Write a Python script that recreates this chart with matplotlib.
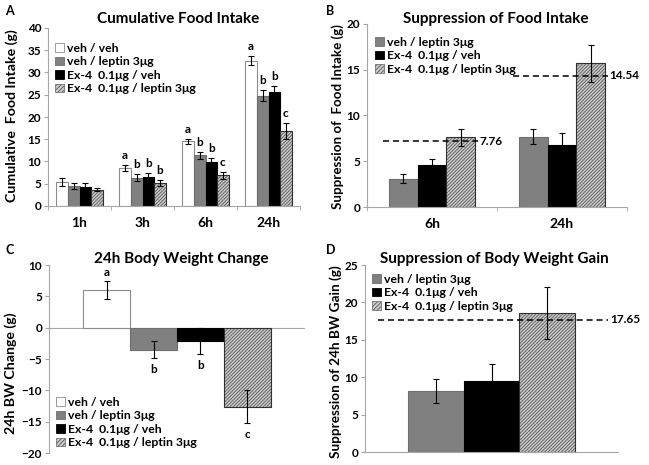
import numpy as np
import matplotlib
matplotlib.use("Agg")
import matplotlib.pyplot as plt
from matplotlib.patches import Patch

plt.rcParams["font.family"] = ["Lato", "DejaVu Sans"]
plt.rcParams["font.weight"] = "bold"
plt.rcParams["hatch.linewidth"] = 0.7

# ---- data -------------------------------------------------------------
groups4 = ["veh / veh", "veh / leptin 3μg", "Ex-4  0.1μg / veh", "Ex-4  0.1μg / leptin 3μg"]

# A: cumulative food intake (g)
a_times = ["1h", "3h", "6h", "24h"]
a_mean = [[5.4, 8.5, 14.5, 32.6],
          [4.5, 6.4, 11.4, 24.8],
          [4.3, 6.5, 9.9, 25.7],
          [3.7, 5.2, 6.9, 16.8]]
a_err = [[0.8, 0.7, 0.5, 1.0],
         [0.7, 0.7, 0.8, 1.2],
         [0.8, 0.9, 0.9, 1.3],
         [0.4, 0.6, 0.8, 1.8]]
a_letters = [["", "a", "a", "a"],
             ["", "b", "b", "b"],
             ["", "b", "b", "b"],
             ["", "b", "c", "c"]]

# B: suppression of food intake (g)
b_times = ["6h", "24h"]
b_mean = [[3.1, 7.7], [4.6, 6.8], [7.6, 15.7]]
b_err = [[0.5, 0.8], [0.7, 1.3], [0.9, 2.0]]
b_ref_level = [7.2, 14.35]
b_ref_label = ["7.76", "14.54"]

# C: 24h body weight change (g)
c_mean = [6.0, -3.5, -2.1, -12.6]
c_err = [1.4, 1.3, 2.1, 2.6]
c_letters = ["a", "b", "b", "c"]

# D: suppression of 24h BW gain (g)
d_mean = [8.1, 9.5, 18.6]
d_err = [1.6, 2.3, 3.5]
d_ref_level = 17.65
d_ref_label = "17.65"

# ---- styles -----------------------------------------------------------
faces = ["white", "#808080", "black", "white"]
edges = ["#8c8c8c", "#6e6e6e", "black", "#303030"]
hatches = [None, None, None, "//////////"]
HATCH_GRAY = "#626262"
AX_GRAY = "#a6a6a6"
LEG_FS = 8.8
TXT_FS = 8.5


def draw_bar(ax, x, h, w, k):
    if hatches[k]:
        ax.bar(x, h, w, color="#cfcfcf", edgecolor=HATCH_GRAY, hatch=hatches[k], linewidth=0)
        ax.bar(x, h, w, fill=False, edgecolor=edges[k], linewidth=0.8)
    else:
        ax.bar(x, h, w, color=faces[k], edgecolor=edges[k], linewidth=0.8)


def handles(idx):
    out = []
    for k in idx:
        if hatches[k]:
            out.append(Patch(facecolor="#cfcfcf", edgecolor=HATCH_GRAY, hatch="////////", linewidth=0.5))
        else:
            out.append(Patch(facecolor=faces[k], edgecolor=edges[k], linewidth=0.6))
    return out


def style_ax(ax, ylim, step):
    ax.set_ylim(*ylim)
    ax.set_yticks(np.arange(ylim[0], ylim[1] + 0.1, step))
    ax.tick_params(axis="y", labelsize=8.5, length=3, color=AX_GRAY, pad=2)
    for s in ("top", "right"):
        ax.spines[s].set_visible(False)
    ax.spines["left"].set_color(AX_GRAY)
    ax.spines["bottom"].set_color(AX_GRAY)
    for lab in ax.get_yticklabels():
        lab.set_fontweight("bold")


def legend(ax, idx, x, y):
    ax.legend(handles(idx), [groups4[k] for k in idx], loc="upper left",
              bbox_to_anchor=(x, y), bbox_transform=fig.transFigure, frameon=False,
              handlelength=0.7, handleheight=0.7, handletextpad=0.3,
              labelspacing=0.2, borderpad=0, borderaxespad=0,
              prop={"weight": "bold", "size": LEG_FS})


W, H = 649, 465
fig = plt.figure(figsize=(W / 100, H / 100), dpi=100)


def axes_px(l, r, b, t):
    return fig.add_axes([l / W, 1 - b / H, (r - l) / W, (b - t) / H])


def ftext(x, y, s, **kw):
    fig.text(x / W, 1 - y / H, s, **kw)


# ---- A ----------------------------------------------------------------
axA = axes_px(48, 300, 206, 28)
wA = 0.183
xs = np.arange(len(a_times))
for k in range(4):
    pos = xs + (k - 1.5) * wA
    for i, x in enumerate(pos):
        draw_bar(axA, x, a_mean[k][i], wA, k)
    axA.errorbar(pos, a_mean[k], yerr=a_err[k], fmt="none", ecolor="black", elinewidth=0.8, capsize=2, capthick=0.8)
    for i, x in enumerate(pos):
        if a_letters[k][i]:
            axA.text(x, a_mean[k][i] + a_err[k][i] + 0.9, a_letters[k][i], ha="center", va="bottom", fontsize=TXT_FS, fontweight="bold")
axA.set_xlim(-0.5, 3.5)
axA.set_xticks(xs)
axA.set_xticklabels(a_times, fontsize=10, fontweight="bold")
axA.set_xticks(np.arange(-0.5, 3.6, 1), minor=True)
axA.tick_params(axis="x", which="major", length=0, pad=8)
axA.tick_params(axis="x", which="minor", length=3, color=AX_GRAY)
style_ax(axA, (0, 40), 5)
legend(axA, [0, 1, 2, 3], 55 / W, 1 - 43 / H)
ftext(178, 19, "Cumulative Food Intake", ha="center", va="center", fontsize=11, fontweight="bold")
ftext(12, 116, "Cumulative  Food Intake (g)", ha="center", va="center", rotation=90, fontsize=10.2, fontweight="bold")
ftext(9, 11, "A", ha="center", va="center", fontsize=9, fontweight="bold")

# ---- B ----------------------------------------------------------------
axB = axes_px(367, 627, 207, 24)
wB = 0.22
xs = np.arange(len(b_times))
for k in range(3):
    pos = xs + (k - 1) * wB
    for i, x in enumerate(pos):
        draw_bar(axB, x, b_mean[k][i], wB, k + 1)
    axB.errorbar(pos, b_mean[k], yerr=b_err[k], fmt="none", ecolor="black", elinewidth=0.8, capsize=2, capthick=0.8)
for i, x in enumerate(xs):
    axB.plot([x - 1.5 * wB - 0.05, x + 1.5 * wB + 0.02], [b_ref_level[i]] * 2, ls=(0, (4, 2.5)), color="black", lw=1.1)
    axB.text(x + 1.5 * wB + 0.035, b_ref_level[i], b_ref_label[i], ha="left", va="center", fontsize=TXT_FS, fontweight="bold")
axB.set_xlim(-0.5, 1.5)
axB.set_xticks(xs)
axB.set_xticklabels(b_times, fontsize=10, fontweight="bold")
axB.set_xticks([-0.5, 0.5, 1.5], minor=True)
axB.tick_params(axis="x", which="major", length=0, pad=8)
axB.tick_params(axis="x", which="minor", length=3, color=AX_GRAY)
style_ax(axB, (0, 20), 5)
legend(axB, [1, 2, 3], 375 / W, 1 - 37 / H)
ftext(496, 19, "Suppression of Food Intake", ha="center", va="center", fontsize=11, fontweight="bold")
ftext(338, 117, "Suppression of  Food Intake (g)", ha="center", va="center", rotation=90, fontsize=9.6, fontweight="bold")
ftext(330, 11, "B", ha="center", va="center", fontsize=9, fontweight="bold")

# ---- C ----------------------------------------------------------------
axC = axes_px(49, 305, 453, 265)
wC = 0.183
pos = (np.arange(4) - 1.5) * wC
for k in range(4):
    draw_bar(axC, pos[k], c_mean[k], wC, k)
axC.errorbar(pos, c_mean, yerr=c_err, fmt="none", ecolor="black", elinewidth=0.8, capsize=2, capthick=0.8)
for k in range(4):
    if c_mean[k] >= 0:
        axC.text(pos[k], c_mean[k] + c_err[k] + 0.6, c_letters[k], ha="center", va="bottom", fontsize=TXT_FS, fontweight="bold")
    else:
        axC.text(pos[k], c_mean[k] - c_err[k] - 1.0, c_letters[k], ha="center", va="top", fontsize=TXT_FS, fontweight="bold")
axC.axhline(0, color=AX_GRAY, lw=0.8, zorder=0)
axC.set_xlim(-0.5, 0.5)
axC.set_xticks([])
style_ax(axC, (-20, 10), 5)
axC.spines["bottom"].set_visible(False)
legend(axC, [0, 1, 2, 3], 56 / W, 1 - 397 / H)
ftext(181, 259, "24h Body Weight Change", ha="center", va="center", fontsize=11, fontweight="bold")
ftext(11, 373, "24h BW Change (g)", ha="center", va="center", rotation=90, fontsize=10.2, fontweight="bold")
ftext(10, 250, "C", ha="center", va="center", fontsize=9, fontweight="bold")

# ---- D ----------------------------------------------------------------
axD = axes_px(365, 618, 452, 265)
wD = 0.22
pos = (np.arange(3) - 1) * wD
for k in range(3):
    draw_bar(axD, pos[k], d_mean[k], wD, k + 1)
axD.errorbar(pos, d_mean, yerr=d_err, fmt="none", ecolor="black", elinewidth=0.8, capsize=2, capthick=0.8)
axD.plot([pos[0] - wD / 2 - 0.12, pos[2] + wD / 2 + 0.13], [d_ref_level] * 2, ls=(0, (4, 2.5)), color="black", lw=1.1)
axD.text(pos[2] + wD / 2 + 0.14, d_ref_level, d_ref_label, ha="left", va="center", fontsize=TXT_FS, fontweight="bold")
axD.set_xlim(-0.5, 0.5)
axD.set_xticks([])
style_ax(axD, (0, 25), 5)
legend(axD, [1, 2, 3], 372 / W, 1 - 274 / H)
ftext(494, 259, "Suppression of Body Weight Gain", ha="center", va="center", fontsize=11, fontweight="bold")
ftext(336, 362, "Suppression of 24h BW Gain (g)", ha="center", va="center", rotation=90, fontsize=9.8, fontweight="bold")
ftext(331, 250, "D", ha="center", va="center", fontsize=9, fontweight="bold")

fig.savefig("out.png", dpi=100)
